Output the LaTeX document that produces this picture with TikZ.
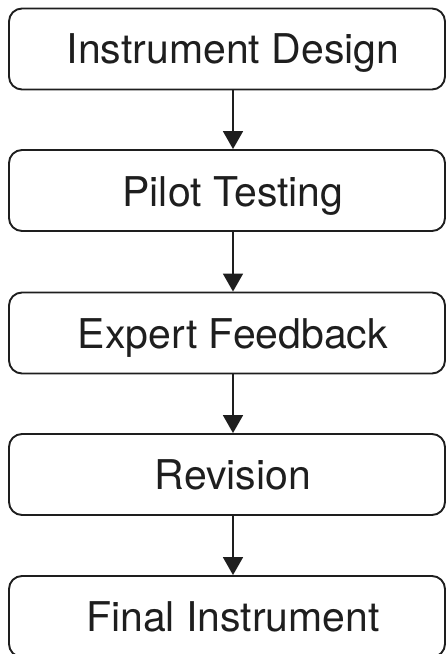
\documentclass[tikz,border=0pt]{standalone}
\usepackage{fontspec}
\setmainfont{TeX Gyre Heros}
\usetikzlibrary{arrows.meta}
\definecolor{ink}{HTML}{1E1E1E}
\tikzset{
  stagebox/.style={draw=ink, line width=1.9pt, rounded corners=13pt, minimum width=436pt, minimum height=81pt, inner sep=0pt},
  stagetext/.style={text=ink, font=\fontsize{41}{49}\selectfont, inner sep=0pt, text height=29.4pt, text depth=0pt, anchor=center},
  flow/.style={draw=ink, line width=1.9pt, -{Triangle[width=20pt,length=18pt]}}
}
\begin{document}
\begin{tikzpicture}[x=1pt,y=-1pt]
\useasboundingbox (0,0) rectangle (447,654);
\clip (0,0) rectangle (447,654);
\node[stagebox] (b1) at (227,49) {};
\node[stagebox] (b2) at (227,190.5) {};
\node[stagebox] (b3) at (227,333) {};
\node[stagebox] (b4) at (227,474.5) {};
\node[stagebox] (b5) at (227,616.5) {};
\node[stagetext] (t1) at (233,49) {Instrument Design};
\node[stagetext] (t2) at (233,191.5) {Pilot Testing};
\node[stagetext] (t3) at (233,333.5) {Expert Feedback};
\node[stagetext] (t4) at (233,475) {Revision};
\node[stagetext] (t5) at (233,616.5) {Final Instrument};
\draw[flow] (t1 |- b1.south) -- (t2 |- b2.north);
\draw[flow] (t2 |- b2.south) -- (t3 |- b3.north);
\draw[flow] (t3 |- b3.south) -- (t4 |- b4.north);
\draw[flow] (t4 |- b4.south) -- (t5 |- b5.north);
\end{tikzpicture}
\end{document}
